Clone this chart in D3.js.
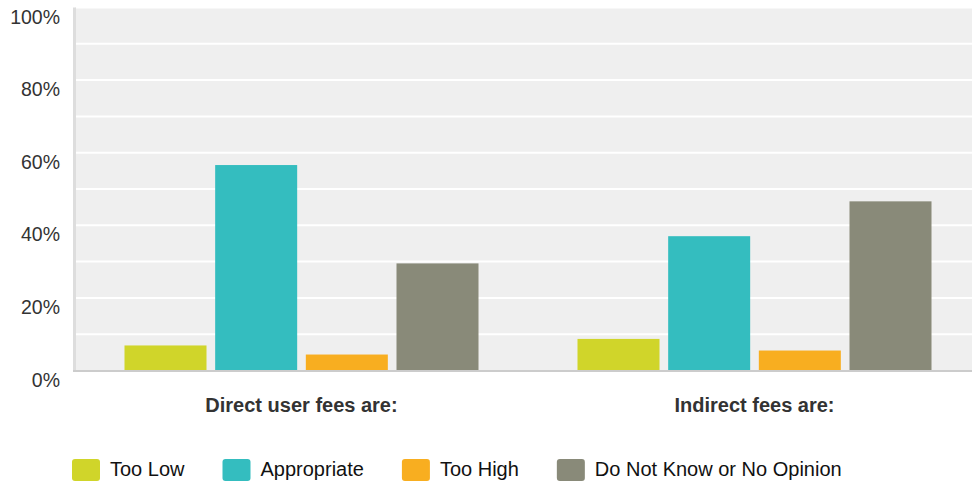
<!DOCTYPE html>
<html><head><meta charset="utf-8">
<script src="https://cdn.jsdelivr.net/npm/d3@7"></script>
<style>body{margin:0;background:#fff;}svg{display:block;font-family:Arial,"Liberation Sans",sans-serif;}</style>
</head><body>
<svg id="c" width="972" height="485"></svg>
<script>
const categories = ["Direct user fees are:", "Indirect fees are:"];
const seriesNames = ["Too Low", "Appropriate", "Too High", "Do Not Know or No Opinion"];
const tooLow = [6.9, 8.7];
const appropriate = [56.6, 37.0];
const tooHigh = [4.4, 5.5];
const doNotKnow = [29.5, 46.6];
const colors = ["#d0d52a", "#34bdbf", "#f8ae20", "#898a79"];
const yTicks = [0, 20, 40, 60, 80, 100];
const gridTicks = [10, 20, 30, 40, 50, 60, 70, 80, 90, 100];

const values = [tooLow, appropriate, tooHigh, doNotKnow];
const svg = d3.select("#c");
const L = 75, R = 981, T = 7.5, B = 370.5;
const y = d3.scaleLinear().domain([0, 100]).range([B, T]);
const x0 = d3.scaleBand().domain(categories).range([L, R]);
const x1 = d3.scaleBand().domain(seriesNames).range([49.5, 403.5]).paddingInner(0.0956);

svg.append("rect").attr("x", L).attr("y", T).attr("width", R - L).attr("height", B - T).attr("fill", "#efefef");
svg.append("rect").attr("x", L - 2).attr("y", T).attr("width", 3).attr("height", B - T).attr("fill", "#dddddd");

svg.append("g").selectAll("line").data(gridTicks).join("line")
  .attr("x1", L + 1).attr("x2", R).attr("y1", d => y(d)).attr("y2", d => y(d))
  .attr("stroke", "#ffffff").attr("stroke-width", 2);

const g = svg.append("g");
categories.forEach((c, ci) => {
  seriesNames.forEach((s, si) => {
    g.append("rect")
      .attr("x", x0(c) + x1(s)).attr("width", x1.bandwidth())
      .attr("y", y(values[si][ci])).attr("height", B - y(values[si][ci]))
      .attr("fill", colors[si]);
  });
});

svg.append("line").attr("x1", L - 2).attr("x2", R).attr("y1", B + 0.5).attr("y2", B + 0.5)
  .attr("stroke", "#cccccc").attr("stroke-width", 2);

svg.append("g").selectAll("text").data(yTicks).join("text")
  .attr("x", 60).attr("y", d => y(d) + 16).attr("text-anchor", "end")
  .attr("font-size", 19.5).attr("fill", "#333").text(d => d + "%");

svg.append("g").selectAll("text").data(categories).join("text")
  .attr("x", d => x0(d) + x1.range()[0] + (x1.range()[1] - x1.range()[0]) / 2)
  .attr("y", 412).attr("text-anchor", "middle").attr("font-weight", "bold")
  .attr("font-size", 20).attr("fill", "#333").text(d => d);

const leg = svg.append("g");
let lx = 72;
seriesNames.forEach((s, i) => {
  leg.append("rect").attr("x", lx).attr("y", 459).attr("width", 28).attr("height", 22)
    .attr("rx", 3).attr("fill", colors[i]);
  const t = leg.append("text").attr("x", lx + 38).attr("y", 476).attr("font-size", 20)
    .attr("fill", "#111").text(s);
  lx += 38 + t.node().getComputedTextLength() + 38;
});
</script>
</body></html>
